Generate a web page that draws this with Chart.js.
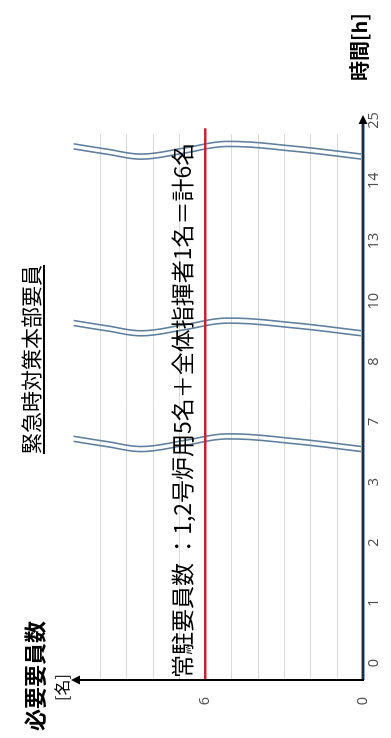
<!DOCTYPE html>
<html lang="ja">
<head>
<meta charset="utf-8">
<title>緊急時対策本部要員</title>
<script src="https://cdn.jsdelivr.net/npm/chart.js@4.4.1/dist/chart.umd.min.js"></script>
<style>
  html, body { margin: 0; padding: 0; background: #fff; overflow: hidden; }
  body { width: 391px; height: 738px; position: relative; }
  /* the whole chart is laid out landscape and turned a quarter left */
  #frame {
    position: absolute; left: 0; top: 738px; width: 738px; height: 391px;
    transform-origin: 0 0; transform: rotate(-90deg);
    font-family: "Noto Sans CJK JP", sans-serif; color: #000;
  }
  #frame canvas { position: absolute; left: 0; top: 0; }
  .lbl { position: absolute; white-space: nowrap; line-height: 1; }
  #title { left: 284px; top: 20px; font-size: 21px;
           text-decoration: underline; text-decoration-thickness: 1.5px; text-underline-offset: 4px; }
  #yname { left: 7px; top: 22px; font-size: 22px; font-weight: bold; }
  #yunit { left: 37px; top: 53px; font-size: 16px; }
  #xname { left: 657px; top: 349px; font-size: 20px; font-weight: bold; }
  #note  { left: 60px; top: 170px; font-size: 23px; }
</style>
</head>
<body>
<div id="frame">
  <canvas id="chart" width="738" height="391"></canvas>
  <div class="lbl" id="title">緊急時対策本部要員</div>
  <div class="lbl" id="yname">必要要員数</div>
  <div class="lbl" id="yunit">[名]</div>
  <div class="lbl" id="xname">時間[h]</div>
  <div class="lbl" id="note">常駐要員数 ：1,2号炉用5名＋全体指揮者1名＝計6名</div>
</div>
<script>
// data
const timeLabels = ["0", "1", "2", "3", "7", "8", "10", "13", "14", "25"];
const staffOnSite = [6, 6, 6, 6, 6, 6, 6, 6, 6, 6];
const yTickLabels = [0, 6];

// axis layout (in axis units)
const X_MIN = -0.28, X_MAX = 9.09;
const Y_MAX = 11.1;
const GRID_END = 8.77;
const RED_END = 8.87;

// break marks between non-consecutive hours
const BREAKS = [3.65, 5.57, 8.5];
const WAVE_Y = [11.0, 9.7, 8.4, 6.8, 5.2, 2.6, 0.05];
const WAVE_DX = [0.07, -0.02, -0.1, 0.0, 0.11, 0.03, -0.1];
const WAVE_GAP = 0.042;

const redPts = [{ x: X_MIN, y: staffOnSite[0] }]
  .concat(staffOnSite.slice(0, 9).map((v, i) => ({ x: i, y: v })))
  .concat([{ x: RED_END, y: staffOnSite[8] }]);

const datasets = [{
  label: "常駐要員数",
  data: redPts,
  borderColor: "#c4262e",
  borderWidth: 2.5,
  order: 0
}];
BREAKS.forEach(b => {
  [-WAVE_GAP, WAVE_GAP].forEach(off => {
    datasets.push({
      data: WAVE_Y.map((y, i) => ({ x: b + off + WAVE_DX[i], y: y })),
      borderColor: "#5f7f9d",
      borderWidth: 1.6,
      tension: 0.4,
      order: 1
    });
  });
});

const gridPlugin = {
  id: "grid",
  beforeDatasetsDraw(chart) {
    const { ctx, scales: { x, y } } = chart;
    const x0 = chart.chartArea.left, x1 = x.getPixelForValue(GRID_END);
    ctx.save();
    ctx.strokeStyle = "#d9d9d9";
    ctx.lineWidth = 1;
    for (let v = 1; v <= 10; v++) {
      const py = Math.round(y.getPixelForValue(v)) + 0.5;
      ctx.beginPath();
      ctx.moveTo(x0, py);
      ctx.lineTo(x1, py);
      ctx.stroke();
    }
    ctx.restore();
  }
};

const axisPlugin = {
  id: "arrows",
  afterDatasetsDraw(chart) {
    const { ctx, chartArea: a } = chart;
    ctx.save();
    // time axis
    ctx.strokeStyle = "#8ea6c2";
    ctx.lineWidth = 4;
    ctx.beginPath(); ctx.moveTo(a.left, a.bottom); ctx.lineTo(a.right - 6, a.bottom); ctx.stroke();
    ctx.strokeStyle = "#1d2b45";
    ctx.lineWidth = 2;
    ctx.beginPath(); ctx.moveTo(a.left, a.bottom); ctx.lineTo(a.right - 6, a.bottom); ctx.stroke();
    ctx.fillStyle = "#000";
    ctx.beginPath();
    ctx.moveTo(a.right, a.bottom);
    ctx.lineTo(a.right - 9, a.bottom - 4.5);
    ctx.lineTo(a.right - 9, a.bottom + 4.5);
    ctx.closePath(); ctx.fill();
    // staff axis
    ctx.strokeStyle = "#000";
    ctx.lineWidth = 2;
    ctx.beginPath(); ctx.moveTo(a.left, a.bottom + 1); ctx.lineTo(a.left, a.top + 6); ctx.stroke();
    ctx.beginPath();
    ctx.moveTo(a.left, a.top);
    ctx.lineTo(a.left - 4.5, a.top + 9);
    ctx.lineTo(a.left + 4.5, a.top + 9);
    ctx.closePath(); ctx.fill();
    ctx.restore();
  }
};

new Chart(document.getElementById("chart"), {
  type: "line",
  data: { datasets: datasets },
  options: {
    responsive: false,
    animation: false,
    devicePixelRatio: 1,
    layout: { padding: { top: 71, right: 115, left: 0, bottom: 0 } },
    plugins: { legend: { display: false }, tooltip: { enabled: false } },
    elements: { point: { radius: 0 } },
    scales: {
      x: {
        type: "linear", min: X_MIN, max: X_MAX,
        grid: { display: false, drawTicks: false },
        border: { display: false },
        afterBuildTicks: s => { s.ticks = timeLabels.map((_, i) => ({ value: i })); },
        afterFit: s => { s.height = 28; },
        ticks: {
          autoSkip: false, maxRotation: 0, padding: 2, color: "#4d4d4d",
          font: { family: "Open Sans", size: 14.5 },
          callback: v => timeLabels[v]
        }
      },
      y: {
        min: 0, max: Y_MAX,
        grid: { display: false, drawTicks: false },
        border: { display: false },
        afterBuildTicks: s => { s.ticks = yTickLabels.map(v => ({ value: v })); },
        afterFit: s => { s.width = 58; },
        ticks: {
          padding: 17, color: "#4d4d4d",
          font: { family: "Open Sans", size: 14.5 }
        }
      }
    }
  },
  plugins: [gridPlugin, axisPlugin]
});
</script>
</body>
</html>
